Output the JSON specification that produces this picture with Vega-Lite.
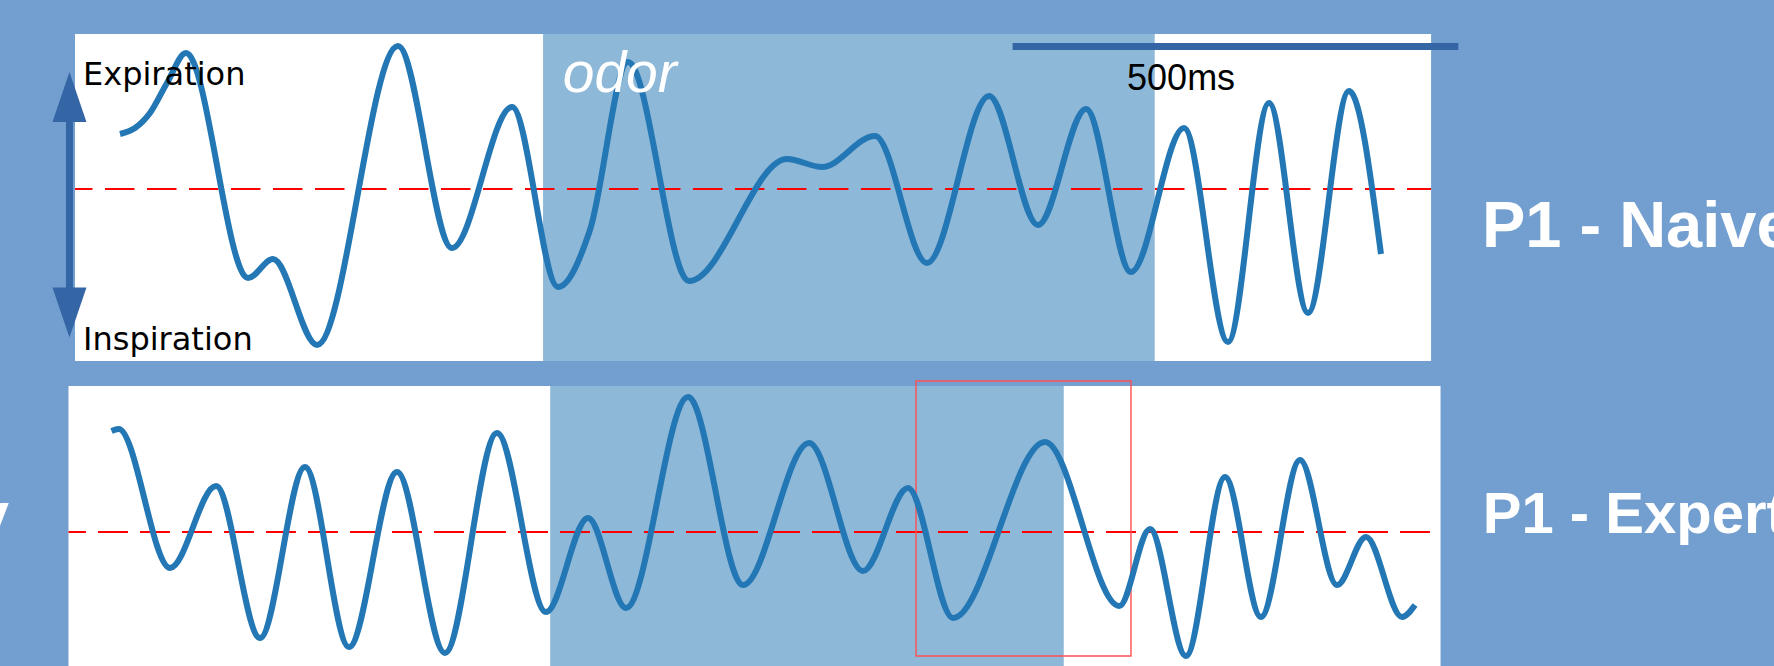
{
  "$schema": "https://vega.github.io/schema/vega-lite/v6.json",
  "width": 1774,
  "height": 666,
  "autosize": {"type": "none"},
  "padding": 0,
  "background": "#729fcf",
  "config": {"view": {"stroke": null, "fill": null}, "axis": {"disable": true}, "legend": {"disable": true}},
  "datasets": {
    "topPanel": [{"t": 0, "t2": 1521, "a": -1.72, "a2": 1.55}],
    "topOdor": [{"t": 525, "t2": 1211, "a": -1.72, "a2": 1.55}],
    "topZero": [{"t": 0, "t2": 1521, "a": 0}],
    "topBreath": [
      {"t": 50.5, "a": 0.55}, {"t": 67.3, "a": 0.61}, {"t": 84.1, "a": 0.76}, {"t": 103.2, "a": 1.06},
      {"t": 124.5, "a": 1.36}, {"t": 194.1, "a": -0.89}, {"t": 222.1, "a": -0.7}, {"t": 271.5, "a": -1.56},
      {"t": 362.3, "a": 1.43}, {"t": 422.9, "a": -0.59}, {"t": 490.2, "a": 0.82}, {"t": 541.8, "a": -0.98},
      {"t": 577.6, "a": -0.41}, {"t": 620.3, "a": 1.27}, {"t": 688.7, "a": -0.92}, {"t": 798.6, "a": 0.3},
      {"t": 837.9, "a": 0.22}, {"t": 897.3, "a": 0.53}, {"t": 955.6, "a": -0.74}, {"t": 1025.2, "a": 0.93},
      {"t": 1080.1, "a": -0.36}, {"t": 1134.0, "a": 0.8}, {"t": 1184.4, "a": -0.83}, {"t": 1243.9, "a": 0.61},
      {"t": 1293.2, "a": -1.53}, {"t": 1339.2, "a": 0.86}, {"t": 1383.0, "a": -1.24}, {"t": 1428.9, "a": 0.98},
      {"t": 1464.8, "a": -0.65}
    ],
    "scaleBar": [{"t": 1051.6, "t2": 1551.6, "a": 1.425}],
    "scaleLabel": [{"t": 1180, "a": 0.99, "label": "500ms"}],
    "axisLabels": [{"t": 9, "a": 1.04, "label": "Expiration"}, {"t": 9, "a": -1.61, "label": "Inspiration"}],
    "odorLabel": [{"t": 547, "a": 0.97, "label": "odor"}],
    "arrowShaft": [{"t": -6.2, "a": 0.74, "a2": -1.06}],
    "arrowUp": [{"t": -6.2, "a": 0.92}],
    "arrowDown": [{"t": -6.2, "a": -1.235}],
    "naiveLabel": [{"t": 1578, "a": -0.58, "label": "P1 - Naive"}],
    "botPanel": [{"t": -7.3, "t2": 1531.6, "a": -1.5, "a2": 1.46}],
    "botOdor": [{"t": 533, "t2": 1109, "a": -1.5, "a2": 1.46}],
    "botZero": [{"t": -7.3, "t2": 1531.6, "a": 0}],
    "botBreath": [
      {"t": 41.0, "a": 1.01}, {"t": 49.0, "a": 1.03}, {"t": 106.6, "a": -0.36}, {"t": 158.2, "a": 0.46},
      {"t": 207.5, "a": -1.06}, {"t": 258.0, "a": 0.65}, {"t": 307.3, "a": -1.15}, {"t": 361.2, "a": 0.6},
      {"t": 415.0, "a": -1.21}, {"t": 473.3, "a": 0.99}, {"t": 528.3, "a": -0.8}, {"t": 575.4, "a": 0.14},
      {"t": 618.0, "a": -0.76}, {"t": 687.6, "a": 1.35}, {"t": 749.3, "a": -0.53}, {"t": 823.3, "a": 0.89},
      {"t": 883.8, "a": -0.39}, {"t": 934.3, "a": 0.44}, {"t": 984.8, "a": -0.86}, {"t": 1088.0, "a": 0.9},
      {"t": 1171.3, "a": -0.74}, {"t": 1205.7, "a": 0.03}, {"t": 1246.1, "a": -1.24}, {"t": 1289.9, "a": 0.55},
      {"t": 1330.2, "a": -0.85}, {"t": 1374.0, "a": 0.72}, {"t": 1415.5, "a": -0.53}, {"t": 1448.0, "a": -0.05},
      {"t": 1488.4, "a": -0.85}, {"t": 1503.0, "a": -0.73}
    ],
    "window": [{"t": 943.3, "t2": 1184.4, "a": -1.24, "a2": 1.51}],
    "expertLabel": [{"t": 1579, "a": -0.01, "label": "P1 - Expert"}],
    "leftLabel": [{"t": -74, "a": -0.01, "label": "y"}]
  },
  "layer": [
    {
      "encoding": {
        "x": {"field": "t", "type": "quantitative", "scale": {"domain": [-84.1, 1905.6], "nice": false, "zero": false}},
        "y": {"field": "a", "type": "quantitative", "scale": {"domain": [-4.77, 1.89], "nice": false, "zero": false}}
      },
      "layer": [
        {"data": {"name": "topPanel"}, "mark": {"type": "rect", "color": "#ffffff"}, "encoding": {"x2": {"field": "t2"}, "y2": {"field": "a2"}}},
        {"data": {"name": "topOdor"}, "mark": {"type": "rect", "color": "#8db8d8"}, "encoding": {"x2": {"field": "t2"}, "y2": {"field": "a2"}}},
        {"data": {"name": "topZero"}, "mark": {"type": "rule", "color": "#ff0000", "strokeWidth": 2.2, "strokeDash": [29.5, 12.5], "strokeDashOffset": 12}, "encoding": {"x2": {"field": "t2"}}},
        {"data": {"name": "topBreath"}, "mark": {"type": "line", "interpolate": "monotone", "color": "#2377b4", "strokeWidth": 6, "strokeCap": "butt"}, "encoding": {}},
        {"data": {"name": "scaleBar"}, "mark": {"type": "rule", "color": "#3465a4", "strokeWidth": 7, "strokeCap": "butt"}, "encoding": {"x2": {"field": "t2"}}},
        {"data": {"name": "scaleLabel"}, "mark": {"type": "text", "font": "Liberation Sans", "fontSize": 36, "color": "#000000", "align": "left", "baseline": "alphabetic"}, "encoding": {"text": {"field": "label"}}},
        {"data": {"name": "axisLabels"}, "mark": {"type": "text", "font": "DejaVu Sans", "fontSize": 32, "color": "#000000", "align": "left", "baseline": "alphabetic"}, "encoding": {"text": {"field": "label"}}},
        {"data": {"name": "odorLabel"}, "mark": {"type": "text", "font": "Liberation Sans", "fontStyle": "italic", "fontSize": 57, "color": "#ffffff", "align": "left", "baseline": "alphabetic"}, "encoding": {"text": {"field": "label"}}},
        {"data": {"name": "arrowShaft"}, "mark": {"type": "rule", "color": "#3465a4", "strokeWidth": 7, "strokeCap": "butt"}, "encoding": {"y2": {"field": "a2"}}},
        {"data": {"name": "arrowUp"}, "mark": {"type": "point", "shape": "M0,-1L0.68,1L-0.68,1Z", "size": 2500, "filled": true, "color": "#3465a4", "opacity": 1, "strokeWidth": 0}},
        {"data": {"name": "arrowDown"}, "mark": {"type": "point", "shape": "M0,1L0.68,-1L-0.68,-1Z", "size": 2500, "filled": true, "color": "#3465a4", "opacity": 1, "strokeWidth": 0}},
        {"data": {"name": "naiveLabel"}, "mark": {"type": "text", "font": "Liberation Sans", "fontWeight": "bold", "fontSize": 65, "color": "#ffffff", "align": "left", "baseline": "alphabetic"}, "encoding": {"text": {"field": "label"}}}
      ]
    },
    {
      "encoding": {
        "x": {"field": "t", "type": "quantitative", "scale": {"domain": [-84.1, 1905.6], "nice": false, "zero": false}},
        "y": {"field": "a", "type": "quantitative", "scale": {"domain": [-1.34, 5.32], "nice": false, "zero": false}}
      },
      "layer": [
        {"data": {"name": "botPanel"}, "mark": {"type": "rect", "color": "#ffffff"}, "encoding": {"x2": {"field": "t2"}, "y2": {"field": "a2"}}},
        {"data": {"name": "botOdor"}, "mark": {"type": "rect", "color": "#8db8d8"}, "encoding": {"x2": {"field": "t2"}, "y2": {"field": "a2"}}},
        {"data": {"name": "botZero"}, "mark": {"type": "rule", "color": "#ff0000", "strokeWidth": 2.2, "strokeDash": [30, 12], "strokeDashOffset": 12.5}, "encoding": {"x2": {"field": "t2"}}},
        {"data": {"name": "window"}, "mark": {"type": "rect", "filled": false, "color": "#ff5050", "strokeWidth": 1.4}, "encoding": {"x2": {"field": "t2"}, "y2": {"field": "a2"}}},
        {"data": {"name": "botBreath"}, "mark": {"type": "line", "interpolate": "monotone", "color": "#2377b4", "strokeWidth": 6, "strokeCap": "butt"}, "encoding": {}},
        {"data": {"name": "expertLabel"}, "mark": {"type": "text", "font": "Liberation Sans", "fontWeight": "bold", "fontSize": 58, "color": "#ffffff", "align": "left", "baseline": "alphabetic"}, "encoding": {"text": {"field": "label"}}},
        {"data": {"name": "leftLabel"}, "mark": {"type": "text", "font": "Liberation Sans", "fontWeight": "bold", "fontSize": 58, "color": "#ffffff", "align": "right", "baseline": "alphabetic"}, "encoding": {"text": {"field": "label"}}}
      ]
    }
  ],
  "resolve": {"scale": {"y": "independent"}}
}
